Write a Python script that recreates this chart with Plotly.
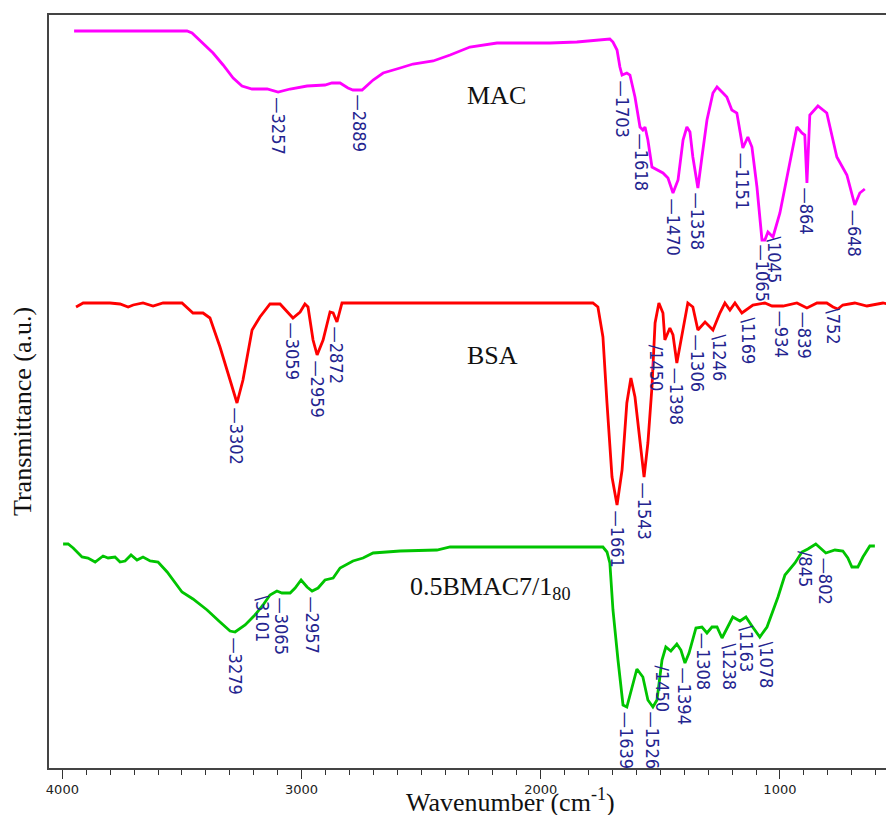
import numpy as np
import plotly.graph_objects as go

# ---------------- data (wavenumber as placed on the axis, transmittance a.u.) ----------------
mac_wn = [3951, 3479, 3458, 3424, 3370, 3328, 3286, 3249, 3207, 3144, 3098, 3048, 2977, 2902, 2873,
          2839, 2806, 2785, 2747, 2701, 2659, 2588, 2534, 2450, 2379, 2296, 2183, 1961, 1849, 1711,
          1698, 1681, 1669, 1660, 1640, 1627, 1606, 1585, 1573, 1564, 1552, 1535, 1489, 1468, 1447,
          1426, 1405, 1389, 1376, 1364, 1343, 1326, 1305, 1280, 1263, 1238, 1222, 1201, 1180, 1155,
          1134, 1117, 1096, 1075, 1063, 1050, 1029, 1000, 971, 929, 908, 896, 887, 875, 841, 804,
          762, 720, 687, 666, 645]
mac_t = [737, 737, 735, 727, 715, 703, 690, 682, 679, 679, 676, 679, 682, 683, 685,
         685, 680, 678, 678, 688, 695, 700, 704, 707, 713, 721, 725, 725, 726, 729,
         726, 718, 701, 693, 695, 693, 671, 641, 638, 641, 628, 601, 595, 590, 575,
         588, 628, 641, 636, 611, 580, 611, 648, 675, 681, 675, 671, 658, 655, 620,
         631, 621, 581, 528, 528, 536, 531, 555, 591, 641, 635, 633, 585, 653, 662, 655,
         611, 593, 563, 575, 579]

bsa_wn = [3943, 3913, 3801, 3759, 3725, 3704, 3663, 3621, 3579, 3500, 3454, 3412, 3383, 3341, 3299,
          3270, 3245, 3207, 3174, 3132, 3090, 3057, 3036, 3006, 2986, 2973, 2952, 2935, 2910, 2881,
          2868, 2852, 2831, 2379, 1782, 1761, 1740, 1723, 1702, 1681, 1660, 1640, 1623, 1606, 1585,
          1568, 1552, 1535, 1522, 1506, 1489, 1481, 1460, 1447, 1431, 1410, 1385, 1364, 1343, 1313,
          1280, 1251, 1230, 1209, 1188, 1159, 1113, 1063, 1033, 987, 929, 887, 845, 804, 778,
          758, 737, 687, 636, 569, 530]
bsa_t = [461, 465, 465, 464, 461, 463, 465, 462, 465, 465, 455, 455, 450, 421, 388,
         365, 388, 438, 451, 464, 464, 456, 450, 456, 464, 461, 428, 413, 428, 456,
         455, 446, 465, 465, 465, 461, 431, 365, 291, 263, 298, 365, 390, 371, 325,
         291, 325, 381, 445, 465, 455, 428, 440, 433, 405, 431, 465, 461, 438, 446,
         438, 455, 465, 458, 465, 455, 463, 465, 462, 462, 465, 460, 465, 465, 461,
         459, 463, 465, 462, 465, 463]

mix_wn = [3997, 3976, 3955, 3918, 3893, 3863, 3830, 3809, 3780, 3759, 3738, 3713, 3688, 3663, 3633,
          3600, 3562, 3529, 3500, 3454, 3395, 3341, 3299, 3278, 3236, 3195, 3161, 3132, 3103, 3082,
          3048, 3027, 3002, 2977, 2956, 2931, 2902, 2868, 2839, 2785, 2743, 2701, 2588, 2434, 2379,
          1740, 1723, 1711, 1698, 1677, 1656, 1640, 1619, 1598, 1573, 1552, 1531, 1514, 1493, 1477,
          1456, 1431, 1414, 1397, 1380, 1351, 1326, 1305, 1284, 1263, 1242, 1222, 1197, 1167, 1142,
          1117, 1084, 1054, 1008, 979, 937, 908, 883, 850, 833, 808, 770, 737, 716, 699,
          674, 653, 624, 603]
mix_t = [224, 224, 220, 211, 210, 206, 212, 210, 211, 206, 207, 213, 208, 211, 207,
         206, 196, 186, 176, 169, 158, 146, 137, 136, 143, 153, 163, 173, 177, 175,
         175, 180, 188, 181, 177, 180, 188, 190, 200, 207, 210, 215, 217, 218, 221,
         221, 216, 205, 158, 108, 63, 61, 81, 99, 91, 68, 61, 68, 108, 121,
         117, 124, 118, 105, 115, 140, 141, 135, 141, 141, 130, 140, 151, 147, 151,
         142, 131, 141, 171, 193, 205, 216, 219, 224, 220, 215, 218, 217, 210, 201,
         201, 211, 222, 222]

# peak labels: text, position on curve (as placed), tick kind
mac_peak_text = ["3257", "2889", "1703", "1618", "1470", "1358", "1151", "1065", "1045", "864", "648"]
mac_peak_pos = [3098, 2756, 1660, 1577, 1447, 1343, 1155, 1071, 1050, 887, 687]
mac_peak_kind = ["s", "s", "s", "s", "s", "s", "s", "s", "r", "s", "s"]

bsa_peak_text = ["3302", "3059", "2959", "2872", "1661", "1543", "1450", "1398", "1306", "1246",
                 "1169", "934", "839", "752"]
bsa_peak_pos = [3270, 3036, 2935, 2852, 1681, 1568, 1481, 1431, 1343, 1280, 1159, 992, 896, 804]
bsa_peak_kind = ["s", "s", "s", "s", "s", "s", "l", "s", "s", "r", "r", "s", "s", "r"]

mix_peak_text = ["3279", "3101", "3065", "2957", "1639", "1526", "1450", "1394", "1308", "1238",
                 "1163", "1078", "845", "802"]
mix_peak_pos = [3278, 3103, 3082, 2956, 1640, 1531, 1493, 1397, 1322, 1242, 1167, 1084, 862, 808]
mix_peak_kind = ["s", "L", "s", "s", "s", "s", "l2", "s", "s", "r", "r", "r", "l", "s"]

x_tick_vals = [4000, 3000, 2000, 1000]
x_tick_text = ["4000", "3000", "2000", "1000"]

# ---------------- figure ----------------
LABEL_FONT = "Liberation Sans Narrow, Arial Narrow, DejaVu Sans Condensed, sans-serif"
SERIF = "Liberation Serif, Times New Roman, serif"
LABEL_COLOR = "#24248f"
TICK_STYLE = {"s": ("\u2014", 0), "r": ("\\", 7), "l": ("/", -8), "L": ("\\", -14), "l2": ("/", 0)}

fig = go.Figure()
series = [
    (mac_wn, mac_t, "#ff00ff", mac_peak_text, mac_peak_pos, mac_peak_kind),
    (bsa_wn, bsa_t, "#ff0000", bsa_peak_text, bsa_peak_pos, bsa_peak_kind),
    (mix_wn, mix_t, "#00c400", mix_peak_text, mix_peak_pos, mix_peak_kind),
]

annotations = []
for wn, tv, col, ptxt, ppos, pkind in series:
    fig.add_trace(go.Scatter(x=wn, y=tv, mode="lines",
                             line=dict(color=col, width=2.8), showlegend=False,
                             hoverinfo="skip"))
    wn_a = np.array(wn, dtype=float)[::-1]
    t_a = np.array(tv, dtype=float)[::-1]
    for txt, pos, kind in zip(ptxt, ppos, pkind):
        yv = float(np.interp(pos, wn_a, t_a))
        prefix, xs = TICK_STYLE[kind]
        annotations.append(dict(x=pos, y=yv, xref="x", yref="y", text=prefix + txt,
                                showarrow=False, textangle=90, xanchor="center",
                                yanchor="top", xshift=xs, yshift=-3,
                                font=dict(family=LABEL_FONT, size=18, color=LABEL_COLOR)))

# series names and axis titles
annotations += [
    dict(x=2317, y=673, xref="x", yref="y", text="MAC", showarrow=False,
         xanchor="left", yanchor="middle", font=dict(family=SERIF, size=26, color="#111")),
    dict(x=2317, y=413, xref="x", yref="y", text="BSA", showarrow=False,
         xanchor="left", yanchor="middle", font=dict(family=SERIF, size=26, color="#111")),
    dict(x=2555, y=180, xref="x", yref="y", text="0.5BMAC7/1<sub>80</sub>", showarrow=False,
         xanchor="left", yanchor="middle", font=dict(family=SERIF, size=26, color="#111")),
    dict(x=0.5456, y=-0.0425, xref="paper", yref="paper", text="Wavenumber (cm<sup>-1</sup>)",
         showarrow=False, xanchor="center", yanchor="middle",
         font=dict(family=SERIF, size=26, color="#111")),
    dict(x=-0.032, y=0.474, xref="paper", yref="paper", text="Transmittance (a.u.)",
         showarrow=False, textangle=-90, xanchor="center", yanchor="middle",
         font=dict(family=SERIF, size=26, color="#111")),
]

# the page body adds an 8 px offset, so the figure is 8 px smaller on each side
fig.update_layout(
    width=886, height=807,
    margin=dict(l=41, r=0, t=7, b=47),
    paper_bgcolor="white", plot_bgcolor="white",
    annotations=annotations,
    xaxis=dict(range=[4056, 523], tickvals=x_tick_vals, ticktext=x_tick_text,
               ticks="outside", ticklen=9, tickwidth=1.3, tickcolor="#333",
               minor=dict(dtick=100, ticks="outside", ticklen=5, tickwidth=1.3, tickcolor="#333"),
               showline=True, linecolor="#444", linewidth=1.6, mirror=True,
               showgrid=False, zeroline=False,
               tickfont=dict(family="DejaVu Sans, sans-serif", size=13, color="#222")),
    yaxis=dict(range=[0, 753], showticklabels=False, ticks="", showgrid=False,
               zeroline=False, showline=True, linecolor="#444", linewidth=1.6, mirror=False),
)

fig.write_html("out.html")
